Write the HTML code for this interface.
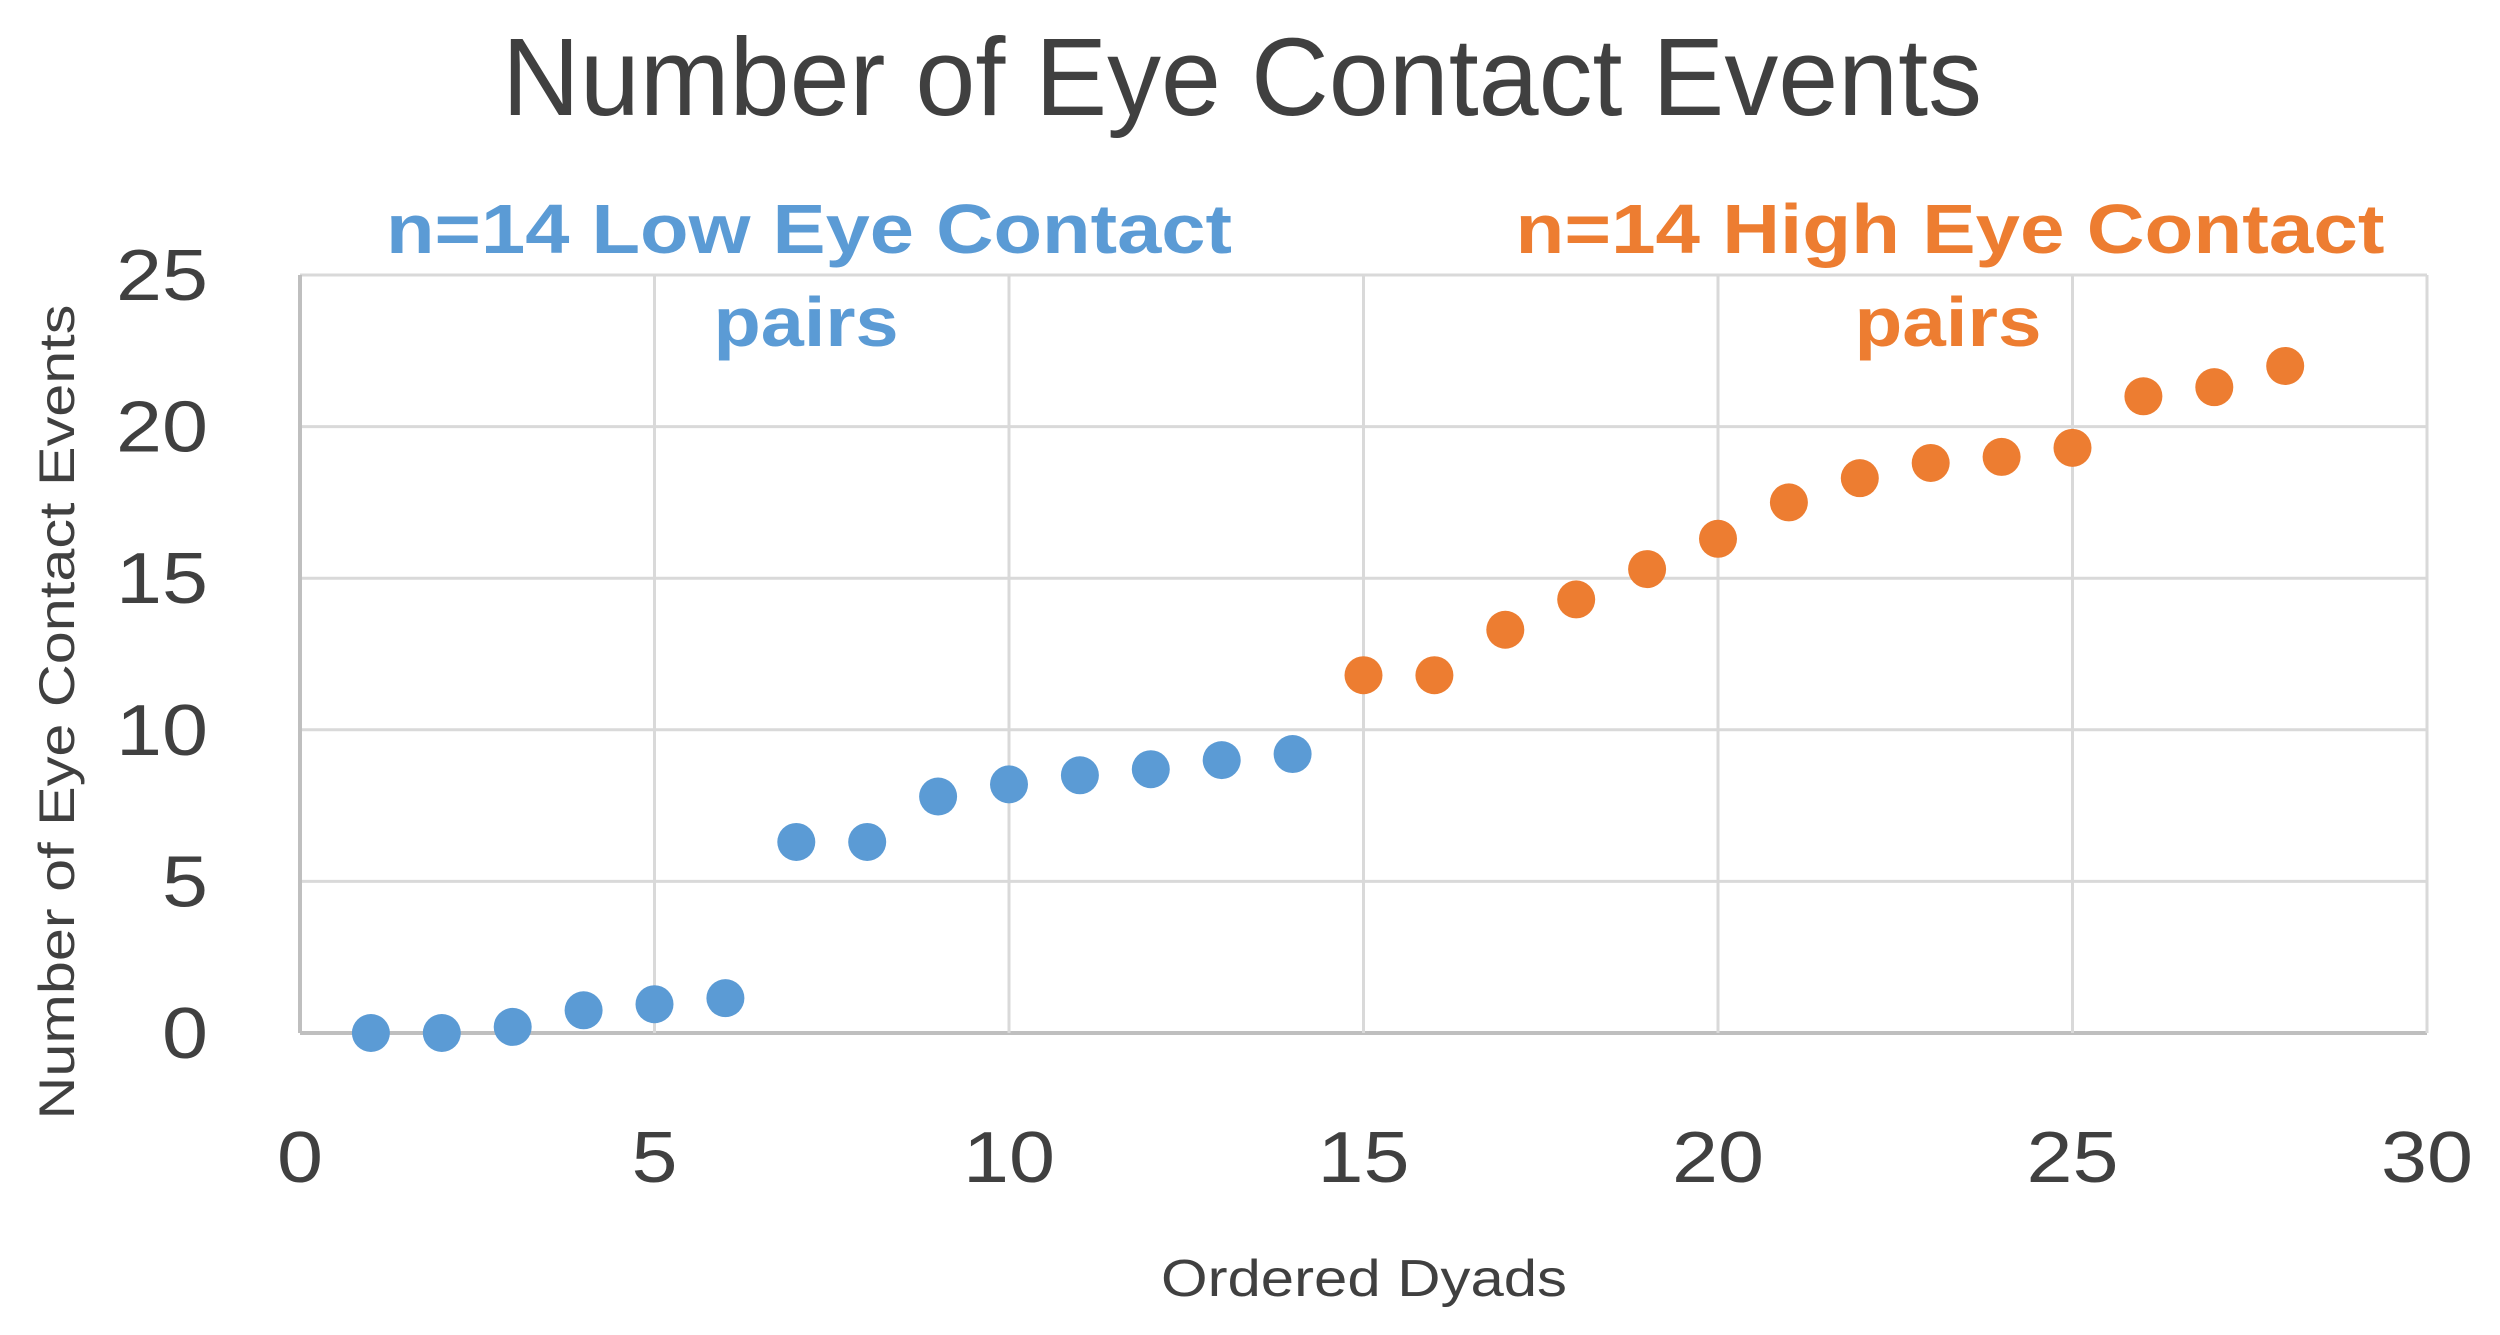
<!DOCTYPE html>
<html><head><meta charset="utf-8"><style>
html,body{margin:0;padding:0;background:#fff;}
svg{display:block;font-family:"Liberation Sans",sans-serif;}
</style></head><body>
<svg id="chart" width="2500" height="1335" viewBox="0 0 2500 1335">
<rect width="2500" height="1335" fill="#fff"/>
<text x="1242" y="115" text-anchor="middle" font-size="110" fill="#404040" textLength="1480" lengthAdjust="spacingAndGlyphs">Number of Eye Contact Events</text>
<g id="grid"></g>
<g id="ticks"></g>
<g id="dots"></g>
<text x="809" y="253" text-anchor="middle" font-size="70" font-weight="bold" fill="#5b9bd5" textLength="846" lengthAdjust="spacingAndGlyphs">n=14 Low Eye Contact</text>
<text x="806" y="346" text-anchor="middle" font-size="70" font-weight="bold" fill="#5b9bd5" textLength="185" lengthAdjust="spacingAndGlyphs">pairs</text>
<text x="1950" y="253" text-anchor="middle" font-size="70" font-weight="bold" fill="#ed7d31" textLength="869" lengthAdjust="spacingAndGlyphs">n=14 High Eye Contact</text>
<text x="1948" y="346" text-anchor="middle" font-size="70" font-weight="bold" fill="#ed7d31" textLength="187" lengthAdjust="spacingAndGlyphs">pairs</text>
<text x="1364" y="1296" text-anchor="middle" font-size="52" fill="#404040" textLength="406" lengthAdjust="spacingAndGlyphs">Ordered Dyads</text>
<text transform="translate(74,712) rotate(-90)" text-anchor="middle" font-size="50" fill="#404040" textLength="815" lengthAdjust="spacingAndGlyphs">Number of Eye Contact Events</text>
</svg>
<script>
const xTicks=[0,5,10,15,20,25,30];
const yTicks=[0,5,10,15,20,25];
const lowX=[1,2,3,4,5,6,7,8,9,10,11,12,13,14];
const lowY=[0,0,0.2,0.75,0.95,1.15,6.3,6.3,7.8,8.2,8.5,8.7,9.0,9.2];
const highX=[15,16,17,18,19,20,21,22,23,24,25,26,27,28];
const highY=[11.8,11.8,13.3,14.3,15.3,16.3,17.5,18.3,18.8,19.0,19.3,21.0,21.3,22.0];
const L=300,R=2427,T=275,B=1033;
const sx=v=>L+(v-0)/(30-0)*(R-L);
const sy=v=>B-(v-0)/(25-0)*(B-T);
const NS="http://www.w3.org/2000/svg";
function mk(tag,attrs,parent,txt){const e=document.createElementNS(NS,tag);for(const k in attrs)e.setAttribute(k,attrs[k]);if(txt!==undefined)e.textContent=txt;parent.appendChild(e);return e;}
const grid=document.getElementById('grid'),ticks=document.getElementById('ticks'),dots=document.getElementById('dots');
yTicks.forEach(v=>{
  const l=mk('line',{x1:L,x2:R,y1:sy(v),y2:sy(v),stroke:v===0?'#bfbfbf':'#d9d9d9','stroke-width':v===0?4:3},grid);
  
  
  const t=mk('text',{x:208,y:sy(v)+25,'text-anchor':'end','font-size':72,fill:'#404040',textLength:String(v).length*46,lengthAdjust:'spacingAndGlyphs'},ticks,String(v));
  
  
});
xTicks.forEach(v=>{
  const l=mk('line',{x1:sx(v),x2:sx(v),y1:T,y2:B,stroke:v===0?'#bfbfbf':'#d9d9d9','stroke-width':v===0?4:3},grid);
  
  
  const t=mk('text',{x:sx(v),y:1182,'text-anchor':'middle','font-size':72,fill:'#404040',textLength:String(v).length*46,lengthAdjust:'spacingAndGlyphs'},ticks,String(v));
  
  
});
lowX.forEach((x,i)=>{
  const c=mk('circle',{cx:sx(x),cy:sy(lowY[i]),r:19,fill:'#5b9bd5'},dots);
  
  
});
highX.forEach((x,i)=>{
  const c=mk('circle',{cx:sx(x),cy:sy(highY[i]),r:19,fill:'#ed7d31'},dots);
  
  
});
</script>
</body></html>
